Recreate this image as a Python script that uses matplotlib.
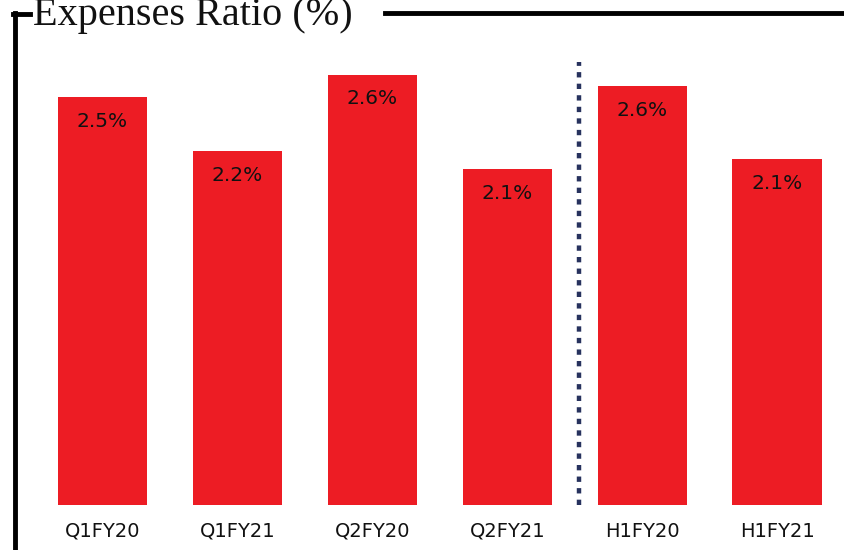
import matplotlib.pyplot as plt
from matplotlib.lines import Line2D

categories = ['Q1FY20', 'Q1FY21', 'Q2FY20', 'Q2FY21', 'H1FY20', 'H1FY21']
values = [2.50, 2.17, 2.64, 2.06, 2.57, 2.12]
title = 'Expenses Ratio (%)'

W, H = 845, 550
fig = plt.figure(figsize=(W / 100, H / 100), dpi=100)
ax = fig.add_axes([0, 45 / H, 1, 505 / H])

x = list(range(len(categories)))
ax.bar(x, values, width=0.66, color='#ED1C24')
ax.set_xlim(-0.76, 5.504)
ax.set_ylim(0, 3.098)
ax.axis('off')

for i, v in zip(x, values):
    ax.text(i, v - 0.147, f'{v:.1f}%', ha='center', va='center', fontsize=14.5,
            family='DejaVu Sans', color='#111111')
    ax.text(i, -0.16, categories[i], ha='center', va='center', fontsize=14,
            family='DejaVu Sans', color='#111111', clip_on=False)

# dotted separator between quarters and half-years
ax.plot([3.53, 3.53], [0, 2.72], color='#27325E', lw=3.2,
        linestyle=(0, (1.2, 1.4)))

# frame lines
fig.add_artist(Line2D([15 / W, 15 / W], [0, 1 - 13 / H], color='black', lw=3.5))
fig.add_artist(Line2D([13.5 / W, 30 / W], [1 - 14 / H, 1 - 14 / H], color='black', lw=3.5))
fig.add_artist(Line2D([385 / W, 1], [1 - 13 / H, 1 - 13 / H], color='black', lw=3.5))

fig.text(33 / W, 1 - 25 / H, title, family='Liberation Serif', fontsize=29,
         ha='left', va='baseline', color='#111111')

fig.savefig('out.png', dpi=100, facecolor='white')
